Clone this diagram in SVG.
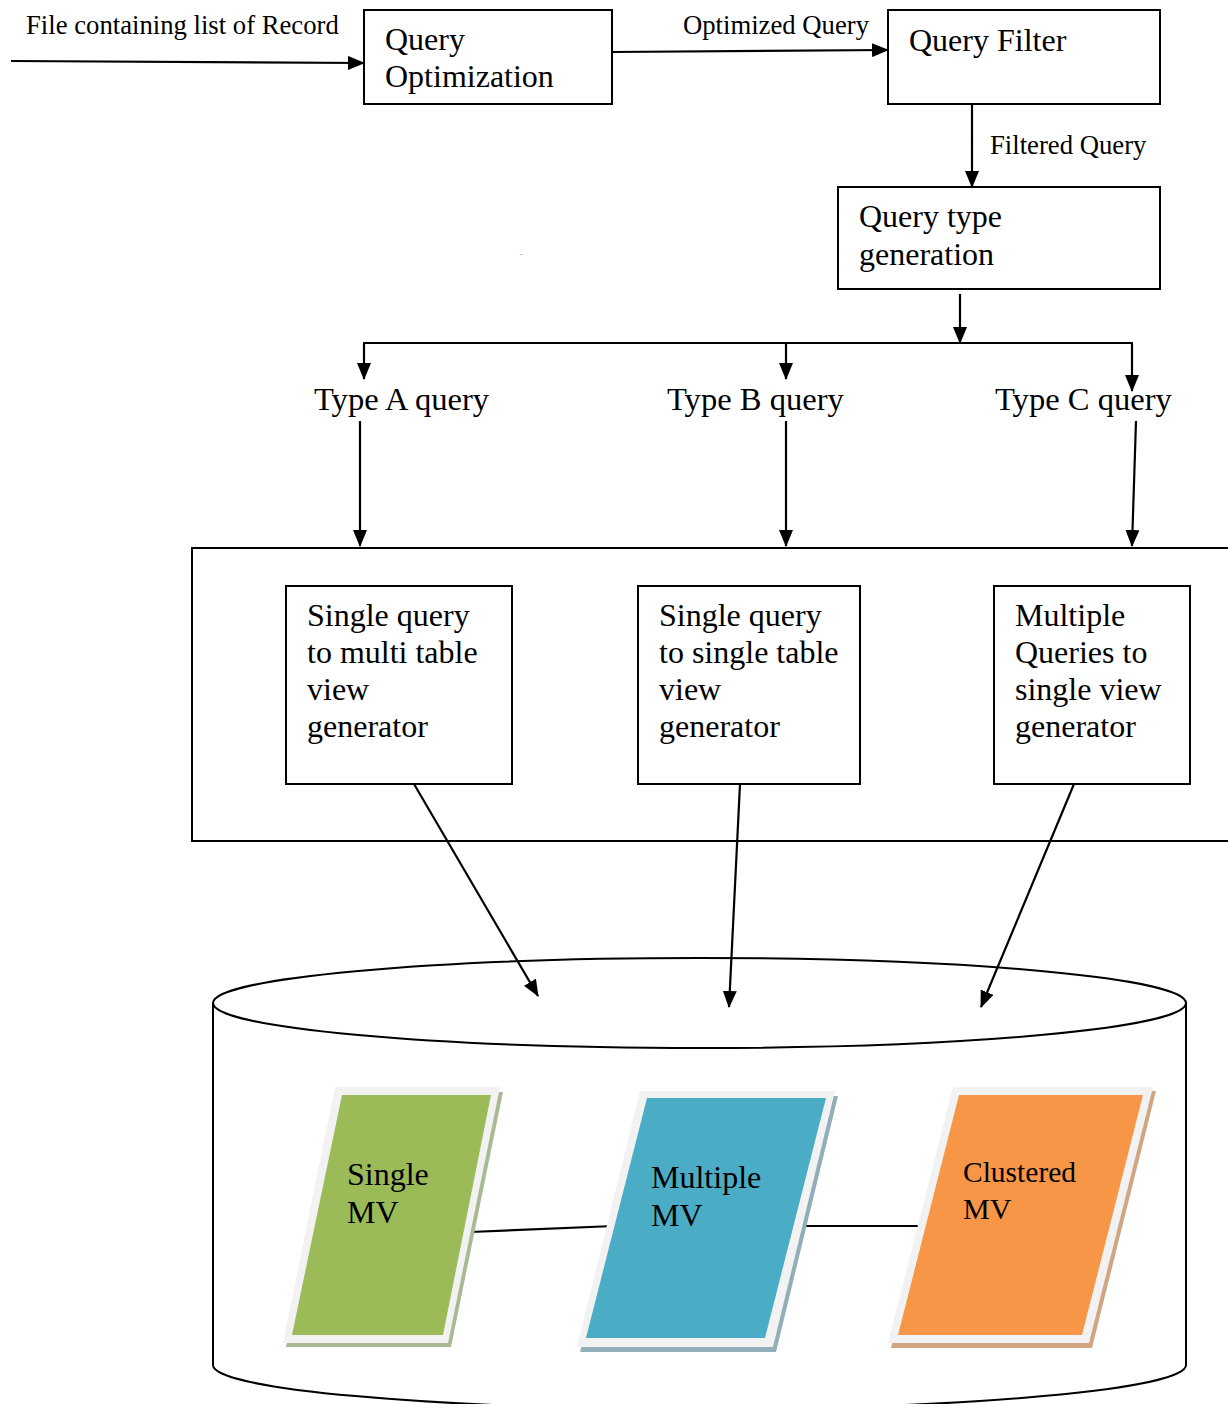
<svg xmlns="http://www.w3.org/2000/svg" width="1228" height="1404" viewBox="0 0 1228 1404">
<style>
.box{fill:#fff;stroke:#000;stroke-width:2}
.t{font-family:"Liberation Serif","Times New Roman",serif;font-size:32px;fill:#000}
.ty{font-size:32.6px}
.s{font-family:"Liberation Serif","Times New Roman",serif;font-size:26.7px;fill:#000}
.c{fill:none;stroke:#000;stroke-width:2.2}
.lt{fill:#f2f2f2}
</style>
<defs>
<marker id="ah" markerWidth="17" markerHeight="14" refX="16" refY="7" orient="auto" markerUnits="userSpaceOnUse">
<path d="M0,0 L17,7 L0,14 Z" fill="#000"/>
</marker>
</defs>
<rect width="1228" height="1404" fill="#fff"/>

<g id="container">
<rect class="box" x="192" y="548" width="1100" height="293"/>
</g>

<g id="database">
<path d="M213,1003 L213,1365 A486.5,44 0 0 0 1186,1365 L1186,1003" fill="#fff" stroke="#000" stroke-width="2"/>
<ellipse cx="699.5" cy="1003" rx="486.5" ry="45" fill="#fff" stroke="#000" stroke-width="2"/>
</g>

<g id="query-optimization">
<rect class="box" x="364" y="10" width="248" height="94"/>
<text class="t" x="385" y="50">Query</text>
<text class="t" x="385" y="87">Optimization</text>
</g>

<g id="query-filter">
<rect class="box" x="888" y="10" width="272" height="94"/>
<text class="t" x="909" y="51">Query Filter</text>
</g>

<g id="query-type-generation">
<rect class="box" x="838" y="187" width="322" height="102"/>
<text class="t" x="859" y="227">Query type</text>
<text class="t" x="859" y="265">generation</text>
</g>

<g id="type-a"><text class="t ty" x="314" y="410">Type A query</text></g>
<g id="type-b"><text class="t ty" x="667" y="410">Type B query</text></g>
<g id="type-c"><text class="t ty" x="995" y="410">Type C query</text></g>

<g id="gen-a">
<rect class="box" x="286" y="586" width="226" height="198"/>
<text class="t" x="307" y="626">Single query</text>
<text class="t" x="307" y="663">to multi table</text>
<text class="t" x="307" y="700">view</text>
<text class="t" x="307" y="737">generator</text>
</g>
<g id="gen-b">
<rect class="box" x="638" y="586" width="222" height="198"/>
<text class="t" x="659" y="626">Single query</text>
<text class="t" x="659" y="663">to single table</text>
<text class="t" x="659" y="700">view</text>
<text class="t" x="659" y="737">generator</text>
</g>
<g id="gen-c">
<rect class="box" x="994" y="586" width="196" height="198"/>
<text class="t" x="1015" y="626">Multiple</text>
<text class="t" x="1015" y="663">Queries to</text>
<text class="t" x="1015" y="700">single view</text>
<text class="t" x="1015" y="737">generator</text>
</g>

<g id="connectors">
<line class="c" x1="11" y1="61" x2="364" y2="63" marker-end="url(#ah)"/>
<line class="c" x1="612" y1="52" x2="888" y2="50" marker-end="url(#ah)"/>
<line class="c" x1="972" y1="104" x2="972" y2="187" marker-end="url(#ah)"/>
<line class="c" x1="960" y1="294" x2="960" y2="343" marker-end="url(#ah)"/>
<line class="c" x1="363" y1="343" x2="1133" y2="343"/>
<line class="c" x1="364" y1="343" x2="364" y2="379" marker-end="url(#ah)"/>
<line class="c" x1="786" y1="343" x2="786" y2="379" marker-end="url(#ah)"/>
<line class="c" x1="1132" y1="343" x2="1132" y2="391" marker-end="url(#ah)"/>
<line class="c" x1="360" y1="421" x2="360" y2="546" marker-end="url(#ah)"/>
<line class="c" x1="786" y1="421" x2="786" y2="546" marker-end="url(#ah)"/>
<line class="c" x1="1136" y1="421" x2="1132" y2="546" marker-end="url(#ah)"/>
<line class="c" x1="414" y1="784" x2="538" y2="996" marker-end="url(#ah)"/>
<line class="c" x1="740" y1="784" x2="729" y2="1007" marker-end="url(#ah)"/>
<line class="c" x1="1074" y1="784" x2="981" y2="1007" marker-end="url(#ah)"/>
<line class="c" x1="470" y1="1232" x2="614" y2="1226"/>
<line class="c" x1="801" y1="1226" x2="923" y2="1226"/>
<text class="s" x="26" y="34">File containing list of Record</text>
<text class="s" x="683" y="34">Optimized Query</text>
<text class="s" x="990" y="154">Filtered Query</text>
</g>

<g id="single-mv">
<polygon points="338,1092 503,1092 451,1347 286,1347" fill="#a9ba93"/>
<polygon class="lt" points="335,1087 500,1087 448,1343 283,1343"/>
<polygon points="342,1095 491,1095 443,1335 292,1335" fill="#9bbb59"/>
<text class="t" x="347" y="1185">Single</text>
<text class="t" x="347" y="1223">MV</text>
</g>
<g id="multiple-mv">
<polygon points="643,1096 838,1096 776,1352 580,1352" fill="#92afb9"/>
<polygon class="lt" points="640,1091 835,1091 773,1347 577,1347"/>
<polygon points="647,1098 826,1098 765,1338 586,1338" fill="#4bacc6"/>
<text class="t" x="651" y="1188">Multiple</text>
<text class="t" x="651" y="1226">MV</text>
</g>
<g id="clustered-mv">
<polygon points="956,1091 1156,1091 1092,1348 891,1348" fill="#d2a581"/>
<polygon class="lt" points="953,1087 1153,1087 1089,1343 888,1343"/>
<polygon points="959,1095 1143,1095 1082,1335 898,1335" fill="#f79646"/>
<text class="t" x="963" y="1182" style="font-size:29.5px">Clustered</text>
<text class="t" x="963" y="1219" style="font-size:30px">MV</text>
</g>

<text x="520" y="255" style="font-family:'Liberation Serif',serif;font-size:9px">.</text>
</svg>
